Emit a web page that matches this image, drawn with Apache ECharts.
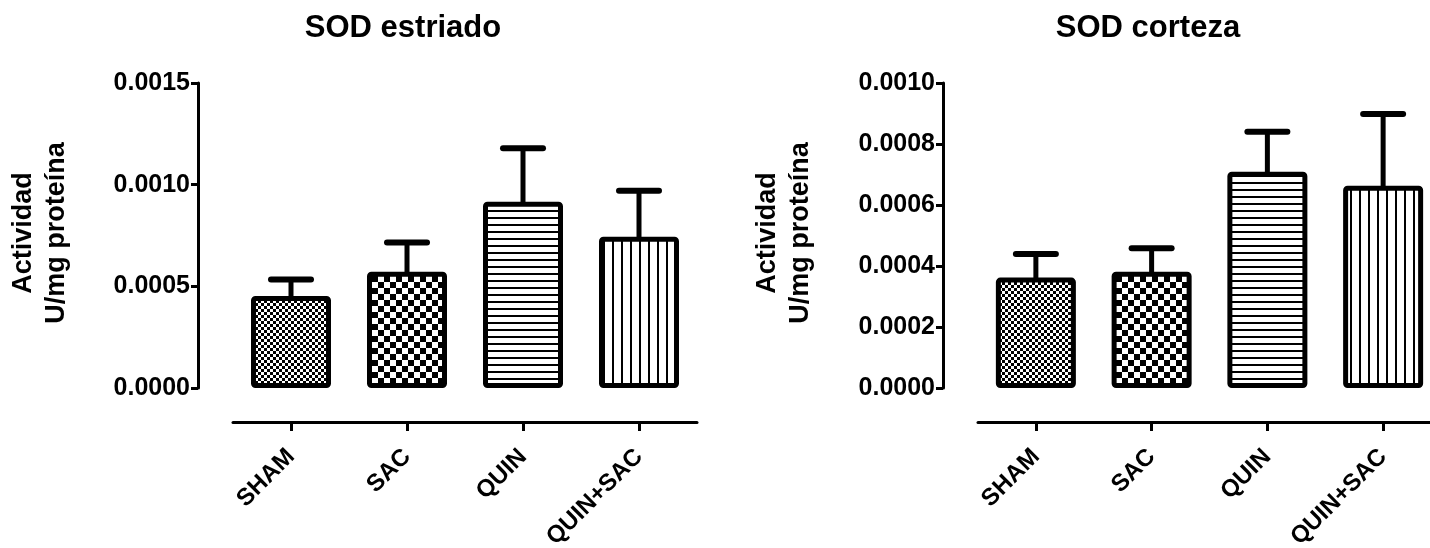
<!DOCTYPE html>
<html>
<head>
<meta charset="utf-8">
<script src="https://cdn.jsdelivr.net/npm/echarts@6/dist/echarts.min.js"></script>
<style>
  html, body { margin: 0; padding: 0; background: #fff; }
  #chart { width: 1430px; height: 548px; }
</style>
</head>
<body>
<div id="chart"></div>
<script>
// Group labels shared by both panels
const categories = ['SHAM', 'SAC', 'QUIN', 'QUIN+SAC'];

// SOD activity in striatum (mean and SEM, U/mg protein)
const striadoMean = [0.000453, 0.000572, 0.000916, 0.000744];
const striadoSem  = [0.00008, 0.000143, 0.000263, 0.000226];

// SOD activity in cortex (mean and SEM, U/mg protein)
const cortezaMean = [0.000362, 0.000381, 0.000709, 0.000663];
const cortezaSem  = [0.000077, 0.000077, 0.000131, 0.000235];

// Value-axis ranges: min, max, step
const striadoAxis = [0, 0.0015, 0.0005];
const cortezaAxis = [0, 0.0010, 0.0002];

const titles = ['SOD estriado', 'SOD corteza'];
const yName = ['Actividad', 'U/mg proteína'];

const FONT = '"Liberation Sans", Arial, Helvetica, sans-serif';

// Fill patterns, one per group
function makePattern(w, h, draw) {
  const c = document.createElement('canvas');
  c.width = w; c.height = h;
  const ctx = c.getContext('2d');
  ctx.fillStyle = '#fff';
  ctx.fillRect(0, 0, w, h);
  ctx.fillStyle = '#000';
  draw(ctx);
  return { image: c, repeat: 'repeat' };
}
const patterns = [
  makePattern(6, 6, ctx => { ctx.fillRect(0, 0, 3, 3); ctx.fillRect(3, 3, 3, 3); }),
  makePattern(12, 12, ctx => { ctx.fillRect(0, 0, 6, 6); ctx.fillRect(6, 6, 6, 6); }),
  makePattern(7, 7, ctx => { ctx.fillRect(0, 0, 7, 2); }),
  makePattern(9, 9, ctx => { ctx.fillRect(0, 0, 2, 9); })
];

function barData(values) {
  return values.map((v, i) => ({
    value: v,
    itemStyle: { color: patterns[i] }
  }));
}

function errData(means, sems) {
  return means.map((m, i) => [i, m, sems[i]]);
}

// Upper error bar: stem from the bar top to mean + SEM, with a cap
function renderErr(params, api) {
  const i = api.value(0);
  const m = api.value(1);
  const e = api.value(2);
  const p0 = api.coord([i, m]);
  const p1 = api.coord([i, m + e]);
  const half = 20;
  return {
    type: 'group',
    children: [
      { type: 'line', shape: { x1: p0[0], y1: p0[1] + 3, x2: p1[0], y2: p1[1] },
        style: { stroke: '#000', lineWidth: 5 } },
      { type: 'line', shape: { x1: p1[0] - half, y1: p1[1], x2: p1[0] + half, y2: p1[1] },
        style: { stroke: '#000', lineWidth: 6, lineCap: 'round' } }
    ]
  };
}

function xAxis(gridIndex) {
  return {
    type: 'category', gridIndex, data: categories, offset: 34,
    axisLine: { show: true, onZero: false, lineStyle: { color: '#000', width: 3 } },
    axisTick: { show: true, alignWithLabel: true, length: 9, lineStyle: { color: '#000', width: 3 } },
    axisLabel: { rotate: 45, margin: 31, color: '#000', fontSize: 24, fontWeight: 'bold', fontFamily: FONT },
    splitLine: { show: false }
  };
}

function yAxis(gridIndex, range) {
  return {
    type: 'value', gridIndex, min: range[0], max: range[1], interval: range[2], offset: 35,
    axisLine: { show: true, lineStyle: { color: '#000', width: 3 } },
    axisTick: { show: true, length: 7, lineStyle: { color: '#000', width: 3 } },
    axisLabel: { margin: 8, color: '#000', fontSize: 25, fontWeight: 'bold', fontFamily: FONT,
      formatter: v => v.toFixed(4) },
    splitLine: { show: false }
  };
}

function barSeries(idx, values) {
  return {
    type: 'bar', xAxisIndex: idx, yAxisIndex: idx, barWidth: 80,
    data: barData(values),
    itemStyle: { borderColor: '#000', borderWidth: 5, borderRadius: 2, borderJoin: 'round' },
    emphasis: { disabled: true },
    animation: false
  };
}

function errSeries(idx, means, sems) {
  return {
    type: 'custom', xAxisIndex: idx, yAxisIndex: idx,
    data: errData(means, sems),
    encode: { x: 0, y: 1 },
    renderItem: renderErr,
    z: 1,
    animation: false
  };
}

function textEl(x, y, text, size, rotation) {
  return {
    type: 'text', x, y, rotation: rotation || 0,
    style: { text, fill: '#000', font: 'bold ' + size + 'px ' + FONT, align: 'center', verticalAlign: 'middle' }
  };
}

const chart = echarts.init(document.getElementById('chart'), null, { renderer: 'canvas' });
chart.setOption({
  backgroundColor: '#fff',
  animation: false,
  grid: [
    { left: 233, top: 83, width: 464, height: 305, containLabel: false, outerBoundsMode: 'none' },
    { left: 978, top: 83, width: 463, height: 305, containLabel: false, outerBoundsMode: 'none' }
  ],
  xAxis: [xAxis(0), xAxis(1)],
  yAxis: [yAxis(0, striadoAxis), yAxis(1, cortezaAxis)],
  series: [
    errSeries(0, striadoMean, striadoSem),
    barSeries(0, striadoMean),
    errSeries(1, cortezaMean, cortezaSem),
    barSeries(1, cortezaMean)
  ],
  graphic: [
    textEl(403, 28, titles[0], 31),
    textEl(1148, 28, titles[1], 31),
    textEl(24, 233, yName[0], 27, Math.PI / 2),
    textEl(57, 233, yName[1], 27, Math.PI / 2),
    textEl(768, 233, yName[0], 27, Math.PI / 2),
    textEl(801, 233, yName[1], 27, Math.PI / 2)
  ]
});
</script>
</body>
</html>
